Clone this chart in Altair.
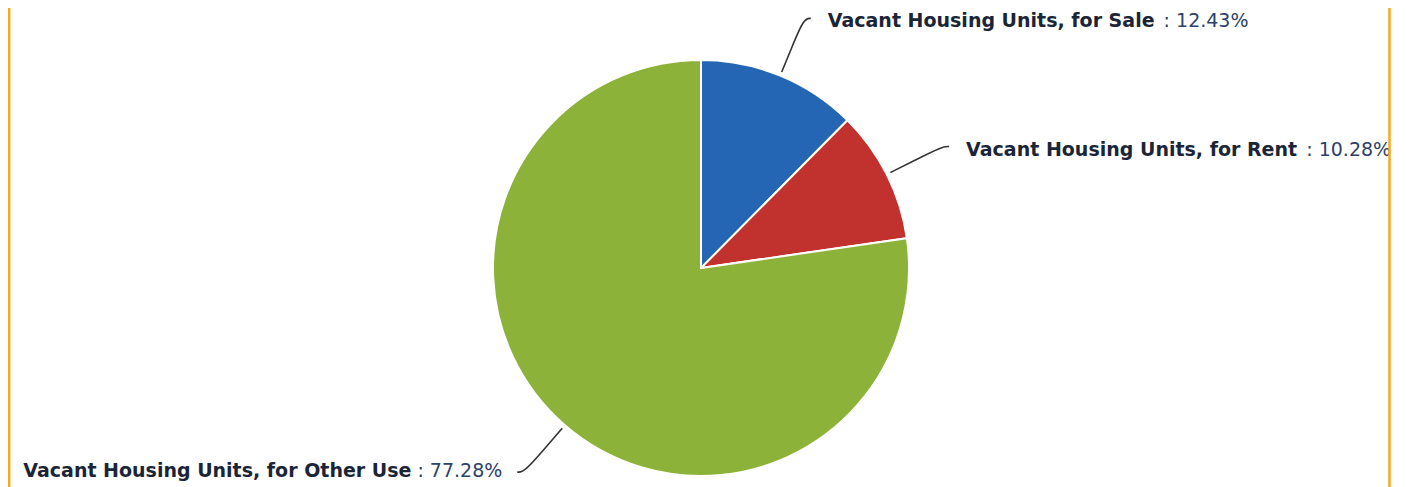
import math
import altair as alt
import pandas as pd

# ---- data ----
categories = [
    "Vacant Housing Units, for Sale",
    "Vacant Housing Units, for Rent",
    "Vacant Housing Units, for Other Use",
]
shares = [12.43, 10.28, 77.28]
share_labels = ["12.43%", "10.28%", "77.28%"]
colors = ["#2466b4", "#c1312e", "#8cb23a"]

# ---- layout / style ----
W, H = 1390, 479
CX, CY = 693, 260
RADIUS = 208
BOLD_SIZE = 19
VALUE_SIZE = 19
LABEL_COLOR = "#1b2538"
VALUE_COLOR = "#2c4268"
BORDER_COLOR = "#f5aa1e"

# approximate advance widths (em) for text measurement
BOLD_W = {" ": .348, ",": .381, "V": .774, "H": .837, "U": .813, "S": .719, "R": .772,
          "O": .850, "a": .675, "c": .594, "n": .712, "t": .478, "o": .687, "u": .712,
          "s": .595, "i": .343, "g": .716, "f": .435, "r": .493, "l": .343, "e": .678,
          "h": .712}
REG_W = {" ": .318, ":": .337, ".": .318, "%": .950}


def text_width(s, table, size):
    return sum(table.get(ch, .636) for ch in s) * size


total = sum(shares)
rows, line_rows, bold_rows, value_rows = [], [], [], []
cum = 0.0
for i, (cat, v, lab) in enumerate(zip(categories, shares, share_labels)):
    mid = (cum + v / 2) / total * 2 * math.pi
    cum += v
    s, c = math.sin(mid), math.cos(mid)
    sign = 1 if s >= 0 else -1
    p0 = (CX + 212 * s, CY - 212 * c)
    p1 = (CX + 238 * s, CY - 238 * c)
    end = (CX + 270 * s + sign * 7, CY - 270 * c)
    pre = (end[0] - sign * 7, end[1])
    for k, (px, py) in enumerate([p0, p1, pre, end]):
        line_rows.append({"cat": cat, "k": k, "x": px, "y": py})
    value_text = ": " + lab
    if sign > 0:
        ty = end[1] + 3
        bx = end[0] + 17
        vx = bx + text_width(cat, BOLD_W, BOLD_SIZE) + 8
        bold_rows.append({"cat": cat, "x": bx, "y": ty, "align": "left"})
        value_rows.append({"cat": cat, "x": vx, "y": ty, "txt": value_text, "align": "left"})
    else:
        ty = end[1] - 1
        vx = end[0] - 15
        bx = vx - text_width(value_text, REG_W, VALUE_SIZE) - 6
        bold_rows.append({"cat": cat, "x": bx, "y": ty, "align": "right"})
        value_rows.append({"cat": cat, "x": vx, "y": ty, "txt": value_text, "align": "right"})
    rows.append({"cat": cat, "value": v, "idx": i})

df = pd.DataFrame(rows)
lines = pd.DataFrame(line_rows)
bold = pd.DataFrame(bold_rows)
vals = pd.DataFrame(value_rows)

xs = alt.Scale(domain=[0, W])
ys = alt.Scale(domain=[0, H], reverse=True)

pie = alt.Chart(df).mark_arc(radius=RADIUS, stroke="white", strokeWidth=2).encode(
    theta=alt.Theta("value:Q", stack=True),
    order=alt.Order("idx:Q"),
    color=alt.Color("cat:N", scale=alt.Scale(domain=categories, range=colors), legend=None),
    x=alt.value(CX),
    y=alt.value(CY),
)

connectors = alt.Chart(lines).mark_line(color="#333333", strokeWidth=1.6, interpolate="basis").encode(
    x=alt.X("x:Q", scale=xs, axis=None),
    y=alt.Y("y:Q", scale=ys, axis=None),
    detail="cat:N",
    order="k:Q",
)


def text_layer(data, align, **kw):
    return alt.Chart(data[data["align"] == align]).mark_text(
        align=align, baseline="middle", font="DejaVu Sans", **kw
    ).encode(
        x=alt.X("x:Q", scale=xs, axis=None),
        y=alt.Y("y:Q", scale=ys, axis=None),
    )


bold_l = text_layer(bold, "left", fontSize=BOLD_SIZE, fontWeight="bold", color=LABEL_COLOR).encode(text="cat:N")
bold_r = text_layer(bold, "right", fontSize=BOLD_SIZE, fontWeight="bold", color=LABEL_COLOR).encode(text="cat:N")
val_l = text_layer(vals, "left", fontSize=VALUE_SIZE, color=VALUE_COLOR).encode(text="txt:N")
val_r = text_layer(vals, "right", fontSize=VALUE_SIZE, color=VALUE_COLOR).encode(text="txt:N")

border_df = pd.DataFrame({"side": ["left", "right"], "bx": [1.2, 1381.5]})
borders = alt.Chart(border_df).mark_rule(color=BORDER_COLOR, strokeWidth=2.5).encode(
    x=alt.X("bx:Q", scale=xs, axis=None),
    y=alt.value(0),
    y2=alt.value(H),
)

chart = alt.layer(pie, connectors, bold_l, bold_r, val_l, val_r, borders).properties(
    width=W, height=H, padding=0, autosize=alt.AutoSizeParams(type="none"),
    background="white",
).configure_view(stroke=None)

chart.save("out.html", embed_options={"renderer": "svg", "actions": False})
